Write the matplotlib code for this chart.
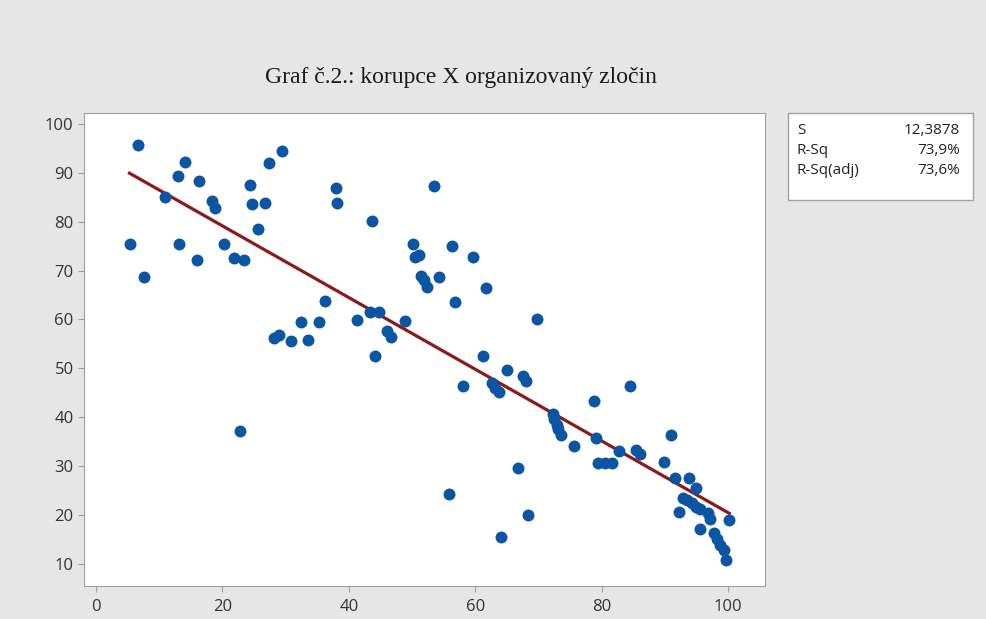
import numpy as np
import matplotlib
matplotlib.use("Agg")
import matplotlib.pyplot as plt
from matplotlib.patches import Rectangle

# korupce (x) vs organizovany zlocin (y)
korupce = [5.3, 6.7, 7.6, 10.9, 12.9, 13.2, 14.1, 15.9, 16.3, 18.3, 18.8, 20.3, 21.9, 22.8,
           23.4, 24.3, 24.7, 25.7, 26.7, 27.3, 28.1, 29.0, 29.5, 30.9, 32.5, 33.5, 35.3, 36.3,
           38.0, 38.2, 41.3, 43.4, 43.6, 44.2, 44.8, 46.1, 46.6, 48.9, 50.1, 50.5, 51.1, 51.4,
           51.9, 52.3, 53.4, 54.3, 55.8, 56.3, 56.8, 58.1, 59.6, 61.3, 61.7, 62.6, 63.1, 63.7,
           64.1, 65.0, 66.7, 67.5, 68.1, 68.4, 69.8, 72.3, 72.4, 72.9, 73.1, 73.5, 75.6, 78.8,
           79.1, 79.5, 80.5, 81.6, 82.8, 84.5, 85.4, 86.1, 89.8, 90.9, 91.6, 92.3, 92.8, 93.5,
           93.8, 94.3, 94.9, 95.0, 95.6, 95.6, 96.9, 97.2, 97.7, 98.2, 98.7, 99.3, 99.7, 100.2]
zlocin = [75.5, 95.7, 68.6, 85.0, 89.4, 75.5, 92.3, 72.2, 88.3, 84.3, 82.8, 75.5, 72.5, 37.2,
          72.2, 87.5, 83.6, 78.5, 83.9, 92.0, 56.2, 56.9, 94.5, 55.5, 59.4, 55.8, 59.4, 63.8,
          86.8, 83.9, 59.8, 61.6, 80.2, 52.6, 61.6, 57.7, 56.5, 59.6, 75.5, 72.7, 73.1, 68.8,
          68.0, 66.7, 87.2, 68.6, 24.3, 75.1, 63.5, 46.3, 72.7, 52.6, 66.4, 47.0, 46.0, 45.1,
          15.6, 49.6, 29.6, 48.5, 47.5, 20.0, 60.1, 40.7, 39.6, 38.4, 37.6, 36.4, 34.2, 43.4,
          35.7, 30.6, 30.6, 30.6, 33.1, 46.3, 33.3, 32.5, 30.9, 36.4, 27.5, 20.7, 23.5, 23.0,
          27.5, 22.4, 25.6, 21.7, 21.2, 17.1, 20.4, 19.2, 16.4, 15.1, 13.9, 12.9, 10.8, 19.0]

# fitted line as drawn in the reference (intercept, slope)
fit_b0 = 93.8
fit_b1 = -0.733

stat_names = ["S", "R-Sq", "R-Sq(adj)"]
stat_values = ["12,3878", "73,9%", "73,6%"]

x = np.array(korupce)
y = np.array(zlocin)
xfit = np.linspace(x.min(), x.max(), 50)

bg = "#e6e6e6"
fig = plt.figure(figsize=(9.86, 6.19), dpi=100, facecolor=bg)
ax = fig.add_axes([0.0852, 0.0533, 0.691, 0.764])
ax.set_facecolor("white")

ax.plot(xfit, fit_b0 + fit_b1 * xfit, color="#8b1a1a", lw=2.3, zorder=2)
ax.plot(x, y, "o", color="#0c55a3", ms=8.6, mew=0, zorder=3)

ax.set_xlim(-1.9, 105.9)
ax.set_ylim(5.5, 102.2)
ax.set_xticks(range(0, 101, 20))
ax.set_yticks(range(10, 101, 10))
for s in ax.spines.values():
    s.set_color("#a0a0a0")
ax.tick_params(colors="#a0a0a0", labelcolor="#333333", labelsize=12, length=4.5)
ax.tick_params(axis="x", pad=4.5)
ax.tick_params(axis="y", pad=3)
for lab in ax.get_xticklabels() + ax.get_yticklabels():
    lab.set_family("Open Sans")

fig.text(0.467, 0.875, "Graf č.2.: korupce X organizovaný zločin", ha="center", va="center",
         family="Liberation Serif", fontsize=17, color="#1a1a1a")

# statistics box
fig.patches.append(Rectangle((788 / 986, 1 - 200 / 619), 185 / 986, 87 / 619,
                             transform=fig.transFigure, facecolor="white",
                             edgecolor="#a0a0a0", lw=1))
for i, (nm, val) in enumerate(zip(stat_names, stat_values)):
    yy = 1 - (131 + 20 * i) / 619
    fig.text(797 / 986, yy, nm, ha="left", va="center", family="Open Sans", fontsize=11,
             color="#222222")
    fig.text(960 / 986, yy, val, ha="right", va="center", family="Open Sans", fontsize=11,
             color="#222222")

fig.savefig("out.png", dpi=100, facecolor=bg)
